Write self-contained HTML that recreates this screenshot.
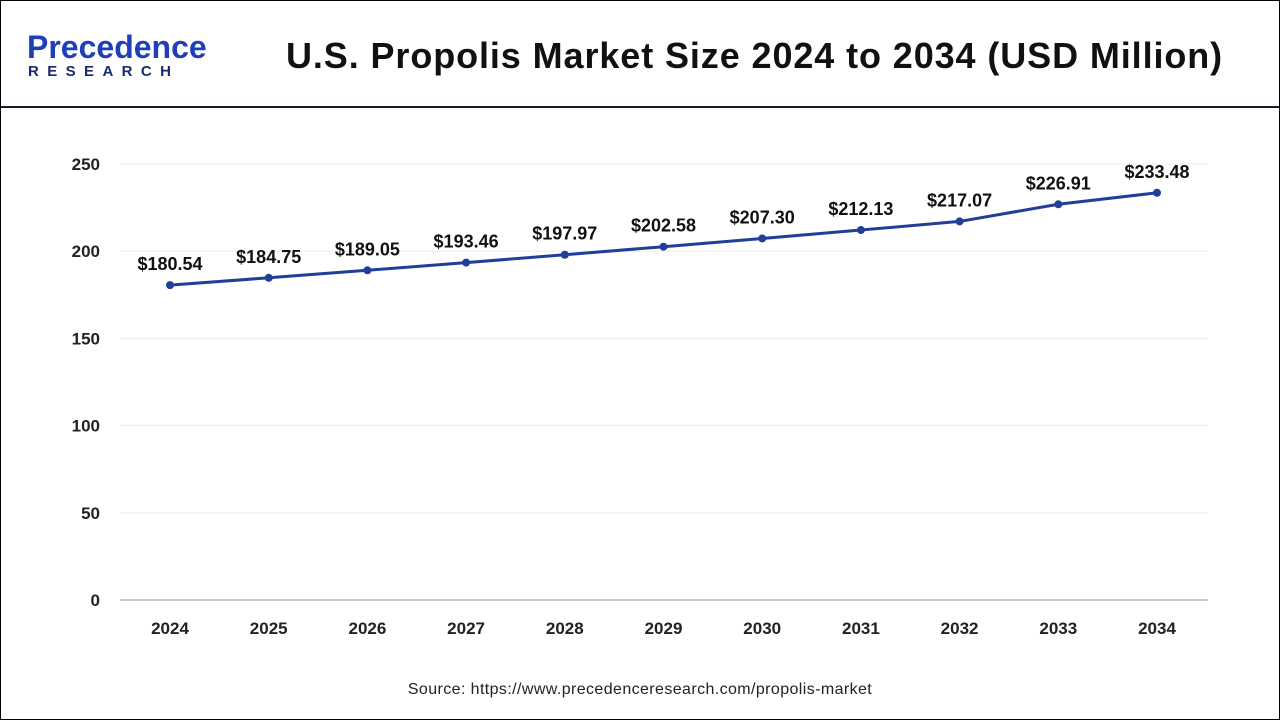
<!DOCTYPE html>
<html><head><meta charset="utf-8"><style>
html,body{margin:0;padding:0;background:#fff}
#wrap{position:relative;width:1278px;height:718px;border:1px solid #000;overflow:hidden;font-family:"Liberation Sans",sans-serif}
#hdr{position:absolute;left:0;top:0;width:1278px;height:105px;border-bottom:2px solid #1a1a2e}
#title{position:absolute;left:285px;top:34px;font-size:36px;font-weight:bold;color:#111;letter-spacing:0.9px}
#logo1{position:absolute;left:26px;top:28px;font-size:32px;font-weight:bold;color:#1f3fb8}
#logo2{position:absolute;left:27px;top:62px;font-size:15px;font-weight:bold;color:#1a2a6c;letter-spacing:8.4px}
#src{position:absolute;left:0;width:1278px;top:680px;text-align:center;font-size:16px;color:#222;letter-spacing:0.4px}
</style></head><body>
<div id="wrap">
<div id="hdr">
<div id="logo1">Precedence</div>
<div id="logo2">RESEARCH</div>
<div id="title">U.S. Propolis Market Size 2024 to 2034 (USD Million)</div>
</div>
<svg id="chart" width="1280" height="720" style="position:absolute;left:-1px;top:-1px"></svg>
<div id="src">Source: https://www.precedenceresearch.com/propolis-market</div>
</div>
<script>
const categories=["2024","2025","2026","2027","2028","2029","2030","2031","2032","2033","2034"];
const values=[180.54,184.75,189.05,193.46,197.97,202.58,207.30,212.13,217.07,226.91,233.48];
const yTicks=[0,50,100,150,200,250];
const svg=document.getElementById('chart');
const NS='http://www.w3.org/2000/svg';
function x(i){return 170+i*98.7;}
function y(v){return 600-v*1.744;}
function mk(t,a,txt){const e=document.createElementNS(NS,t);for(const k in a)e.setAttribute(k,a[k]);if(txt!==undefined)e.textContent=txt;svg.appendChild(e);return e;}
yTicks.forEach(t=>{
 if(t>0){const g=mk('line',{x1:120,x2:1208,y1:y(t),y2:y(t),stroke:'#eeeeee','stroke-width':1});
 }
 const l=mk('text',{x:100,y:y(t)+6,'text-anchor':'end','font-size':17,'font-weight':'bold',fill:'#222','font-family':'Liberation Sans'},t);
 
});
const ax=mk('line',{x1:120,x2:1208,y1:600,y2:600,stroke:'#bbb','stroke-width':1.5});

categories.forEach((c,i)=>{
 const l=mk('text',{x:x(i),y:634,'text-anchor':'middle','font-size':17,'font-weight':'bold',fill:'#222','font-family':'Liberation Sans'},c);
 
});
const line=mk('polyline',{points:values.map((v,i)=>x(i)+','+y(v)).join(' '),fill:'none',stroke:'#1f3f99','stroke-width':3});

values.forEach((v,i)=>{
 const p=mk('circle',{cx:x(i),cy:y(v),r:4,fill:'#1f3f99'});
 
 const t=mk('text',{x:x(i),y:y(v)-15,'text-anchor':'middle','font-size':18,'font-weight':'bold',fill:'#111','font-family':'Liberation Sans'},'$'+v.toFixed(2));
 
});
</script>
</body></html>
